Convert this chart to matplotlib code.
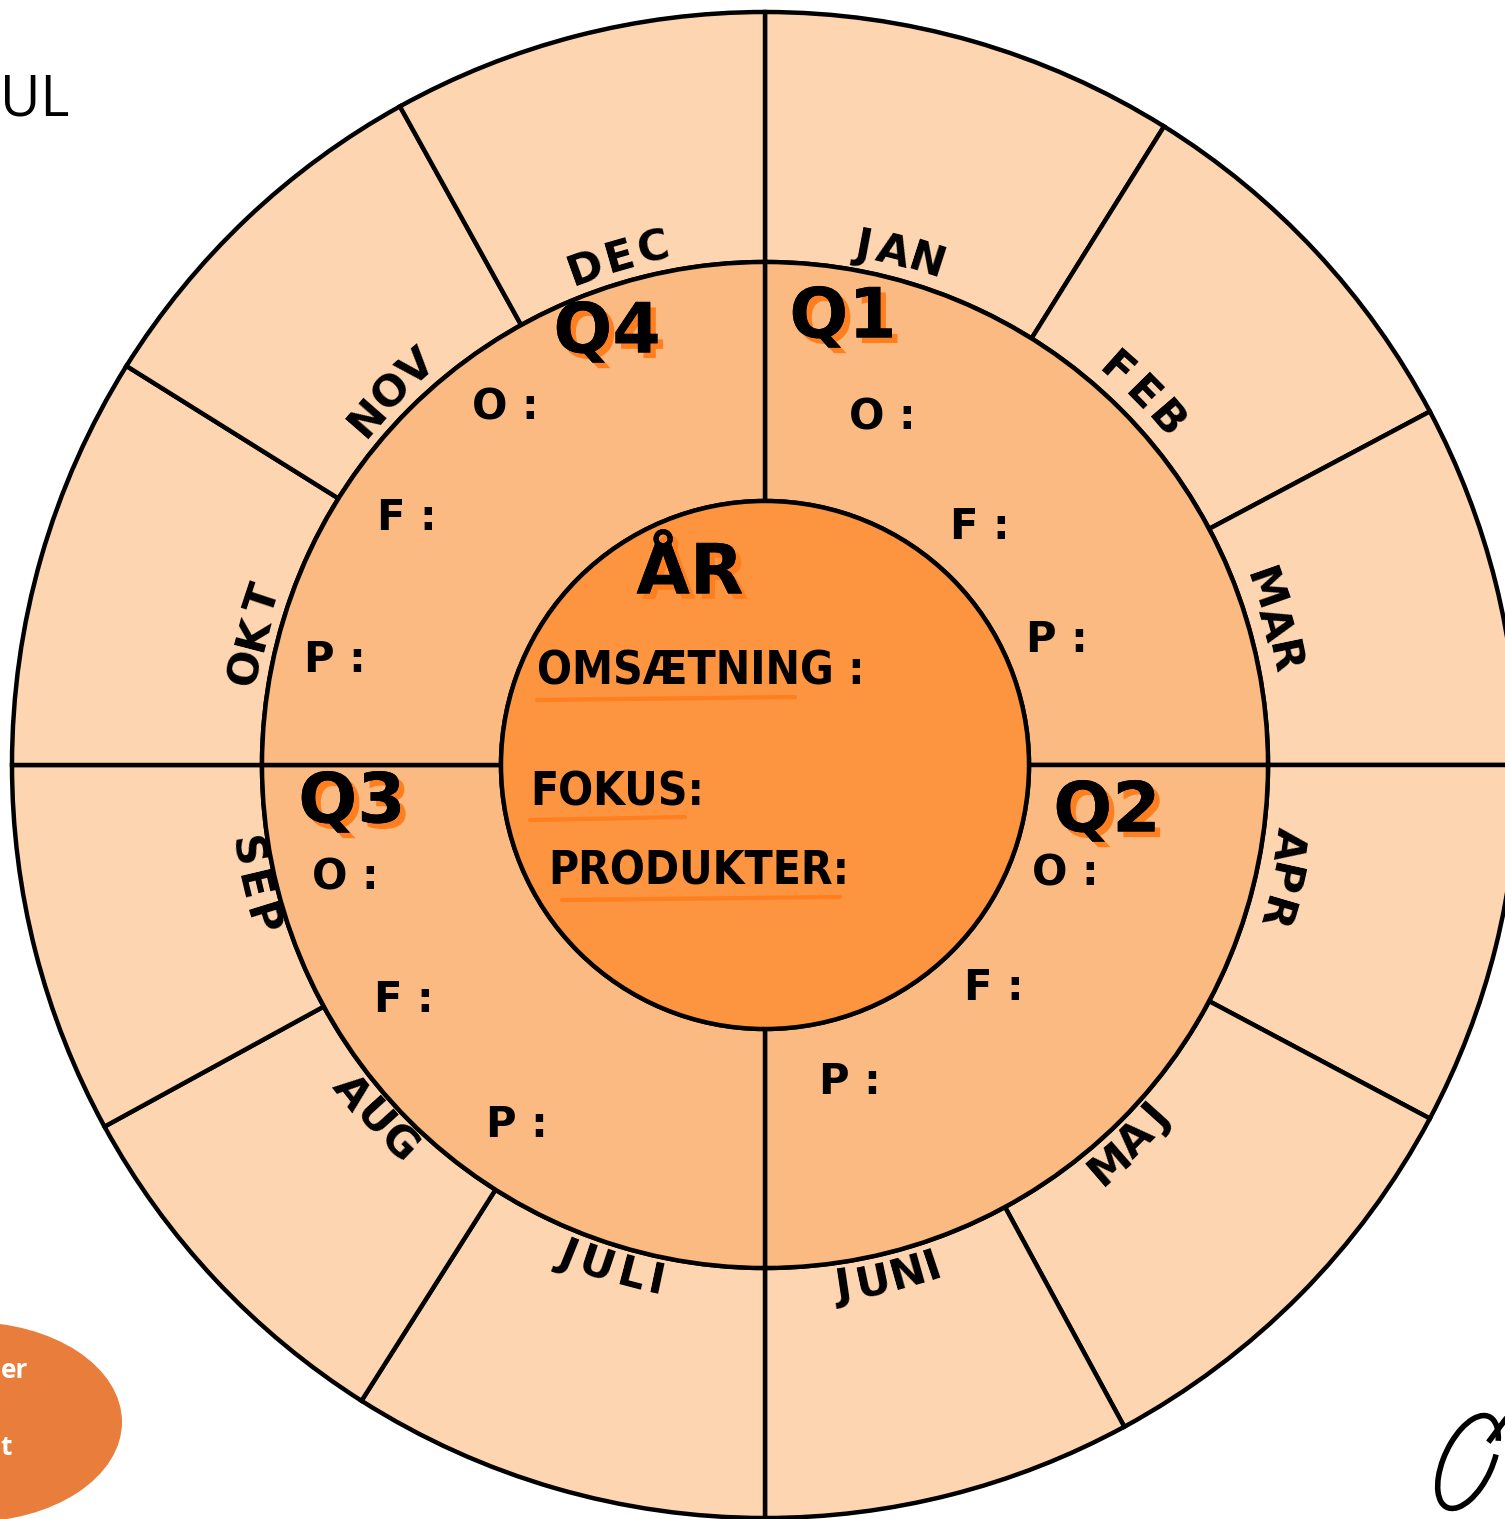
import numpy as np
import matplotlib
matplotlib.use("Agg")
import matplotlib.pyplot as plt
import matplotlib.patheffects as pe
from matplotlib.patches import Wedge, Circle, Ellipse, Arc

# ---------------- data ----------------
months = ["JAN", "FEB", "MAR", "APR", "MAJ", "JUNI", "JULI", "AUG", "SEP", "OKT", "NOV", "DEC"]
month_bounds = [90, 58, 28, 0, -28, -61.5, -90, -122.4, -151.3, -180, -212, -241, -270]  # degrees, clockwise
quarters = ["Q1", "Q2", "Q3", "Q4"]
quarter_fields = ["O:", "F:", "P:"]
year_title = "ÅR"
year_fields = ["OMSÆTNING :", "FOKUS:", "PRODUKTER:"]

# ---------------- style ----------------
W, H = 1505, 1519
C_OUT = "#FDD5B0"
C_MID = "#FBBA82"
C_IN = "#FD9440"
C_HL = "#FF7F1E"
LW = 3.2
FONT = "DejaVu Sans"

fig = plt.figure(figsize=(W / 100, H / 100), dpi=100)
ax = fig.add_axes([0, 0, 1, 1])
ax.set_xlim(0, W)
ax.set_ylim(0, H)
ax.axis("off")


def Y(y_img):
    return H - y_img


cx, cy = 765, Y(765)
R_OUT, R_MID, R_IN = 753, 503, 264
shadow = [pe.withSimplePatchShadow(offset=(4, -4), shadow_rgbFace=C_HL, alpha=1.0), pe.Normal()]

# outer ring: months
for i, m in enumerate(months):
    t1, t2 = month_bounds[i + 1], month_bounds[i]
    ax.add_patch(Wedge((cx, cy), R_OUT, t1, t2, width=R_OUT - R_MID,
                       facecolor=C_OUT, edgecolor="black", lw=LW, zorder=1))

# middle ring: quarters
q_bounds = [90, 0, -90, -180, -270]
for i in range(4):
    ax.add_patch(Wedge((cx, cy), R_MID, q_bounds[i + 1], q_bounds[i], width=R_MID - R_IN,
                       facecolor=C_MID, edgecolor="black", lw=LW, zorder=2))

# inner circle
ax.add_patch(Circle((cx, cy), R_IN, facecolor=C_IN, edgecolor="black", lw=LW, zorder=3))


# month labels along arcs
def char_w(c, fs):
    narrow = {"I": 0.38, "J": 0.62}
    return narrow.get(c, 0.82) * fs * 100 / 72


def curved(label, theta_c, r, fs):
    ws = [char_w(c, fs) for c in label]
    total = sum(ws)
    tops_out = -30 < theta_c < 180
    direction = -1 if tops_out else 1
    acc = -total / 2
    for c, w in zip(label, ws):
        s = acc + w / 2
        acc += w
        th = np.radians(theta_c + direction * np.degrees(s / r))
        thd = np.degrees(th)
        rot = thd - 90 if tops_out else thd + 90
        ax.text(cx + r * np.cos(th), cy + r * np.sin(th), c, fontsize=fs, family=FONT,
                weight="bold", rotation=rot, rotation_mode="anchor",
                ha="center", va="center", zorder=5)


for i, m in enumerate(months):
    mid = (month_bounds[i] + month_bounds[i + 1]) / 2
    if mid < -180:
        mid += 360
    curved(m, mid + (1.5 if mid > -30 and mid < 180 else -1.0), 528, 31)

# quarter labels
q_pos = {"Q1": (843, 318), "Q2": (1107, 812), "Q3": (352, 803), "Q4": (607, 333)}
field_pos = {
    "Q1": [(882, 418), (980, 527), (1057, 640)],
    "Q2": [(1065, 873), (994, 988), (850, 1082)],
    "Q3": [(345, 878), (404, 1000), (517, 1125)],
    "Q4": [(505, 408), (407, 518), (335, 660)],
}
for q in quarters:
    x, y = q_pos[q]
    ax.text(x, Y(y), q, fontsize=50, weight="bold", family=FONT, color="black",
            ha="center", va="center", zorder=6, path_effects=shadow)
    for f, (fx, fy) in zip(quarter_fields, field_pos[q]):
        ax.text(fx, Y(fy), f.replace(":", " :"), fontsize=30, weight="bold", family=FONT,
                ha="center", va="center", zorder=6)

# year centre
ax.text(690, Y(574), year_title, fontsize=50, weight="bold", family=FONT, color="black",
        ha="center", va="center", zorder=6, path_effects=shadow)
yf_pos = [(537, 672, 537, 795), (530, 793, 530, 685), (548, 872, 562, 840)]
yf_line = [700, 820, 900]
for f, (x, y, u0, u1), uy in zip(year_fields, yf_pos, yf_line):
    ax.text(x, Y(y), f, fontsize=33, weight="bold", family=FONT, stretch="condensed",
            ha="left", va="center", zorder=6)
    ax.plot([u0, u1], [Y(uy), Y(uy - 3)], color=C_HL, lw=3, solid_capstyle="round", zorder=5)

# top-left title fragment
ax.text(0, Y(115), "UL", fontsize=40, family="Open Sans", color="black", ha="left", va="baseline")

# bottom-left orange ellipse with text
ax.add_patch(Ellipse((-30, Y(1422)), 304, 200, facecolor="#E97E3C", edgecolor="none", zorder=1))
ax.text(28, Y(1378), "er", fontsize=19, weight="bold", family="Open Sans", color="white",
        ha="right", va="baseline", zorder=2)
ax.text(12, Y(1455), "t", fontsize=19, weight="bold", family="Open Sans", color="white",
        ha="right", va="baseline", zorder=2)

# signature fragment
ax.add_patch(Arc((1468, Y(1462)), 48, 100, angle=-25, theta1=60, theta2=400,
                 color="black", lw=4, zorder=2))
ax.plot([1490, 1505], [Y(1440), Y(1420)], color="black", lw=4)

fig.savefig("out.png", dpi=100)
